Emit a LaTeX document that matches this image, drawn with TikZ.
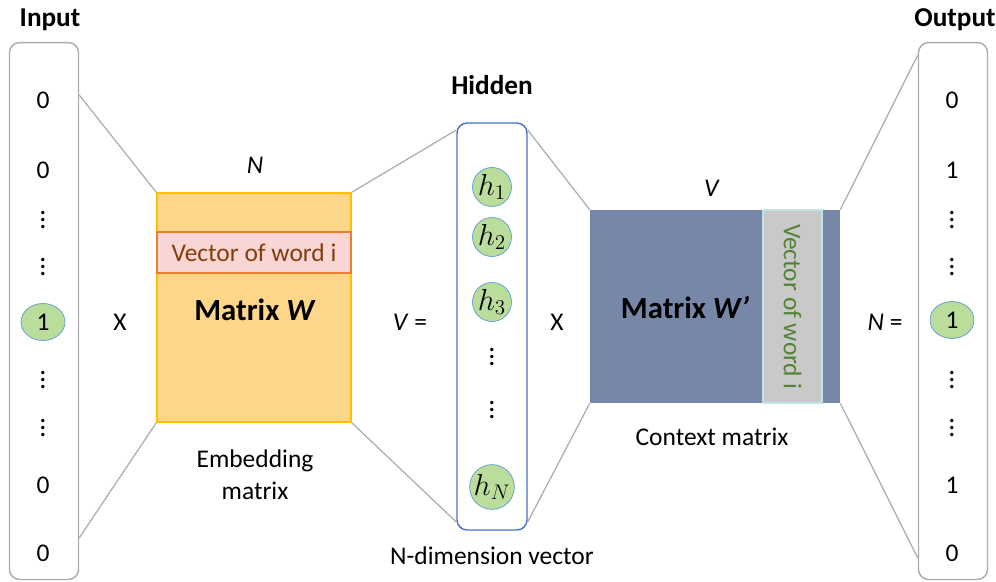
\documentclass[tikz,border=0pt]{standalone}
\usepackage{fontspec}
\setmainfont{Carlito}
\usetikzlibrary{positioning,shapes.geometric}

\definecolor{wfill}{HTML}{FED68A}
\definecolor{wline}{HTML}{FFC000}
\definecolor{bandfill}{HTML}{F9D6D4}
\definecolor{bandline}{HTML}{ED7D31}
\definecolor{bandtext}{HTML}{843C0C}
\definecolor{wpfill}{HTML}{7787A8}
\definecolor{greyband}{HTML}{C9C9C9}
\definecolor{greyline}{HTML}{BDE6EC}
\definecolor{greentext}{HTML}{548235}
\definecolor{cgreen}{HTML}{BADD9C}
\definecolor{bordblue}{HTML}{5B9BD5}
\definecolor{hidblue}{HTML}{4472C4}

\begin{document}
\begin{tikzpicture}[x=0.02cm, y=-0.02cm, font=\fontsize{14.5}{18}\selectfont,
  link/.style={draw=gray!65, line width=0.7pt},
  vecbox/.style={draw=gray!65, line width=0.8pt, rounded corners=0.2cm, minimum width=1.38cm, minimum height=10.74cm, inner sep=0pt},
  onehot/.style={ellipse, draw=bordblue, fill=cgreen, minimum width=0.88cm, minimum height=0.74cm, inner sep=0pt},
  hnode/.style={circle, draw=bordblue, fill=cgreen, minimum size=0.78cm, inner sep=0pt, font=\fontsize{17}{19}\selectfont},
  vdot/.style={inner sep=0pt, font=\fontsize{16}{16}\selectfont\boldmath},
  head/.style={font=\fontsize{15.5}{18}\selectfont\bfseries},
  mlab/.style={font=\fontsize{17.5}{20}\selectfont\bfseries}]
\useasboundingbox (0,0) rectangle (996,581);

% input one-hot vector
\node[head] (inlab) at (50,20) {Input};
\node[vecbox] (inbox) at (44,311) {};
\foreach \y/\v [count=\k] in {100/0, 170/0, 485/0, 553/0}
  \node (in\k) at (43,\y) {\v};
\foreach \y [count=\k] in {215, 262, 375, 423}
  \node[vdot] (ind\k) at (43,\y) {$\vdots$};
\node[onehot] (inone) at (43,322) {1};
\node (x1) at (120,322) {X};

% embedding matrix W
\node[draw=wline, fill=wfill, line width=0.7pt, minimum width=3.88cm, minimum height=4.58cm, inner sep=0pt] (matW) at (254,307.5) {};
\node[draw=bandline, fill=bandfill, line width=0.7pt, minimum width=3.88cm, minimum height=0.82cm, inner sep=0pt, text=bandtext] (bandW) at (254,252.5) {Vector of word i};
\node[mlab] (wlab) at (255,310) {Matrix \textit{W}};
\node (nlab) at (255,165) {\textit{N}};
\node[align=center] (emb) at (255,475) {Embedding\\matrix};
\node (veq) at (410,322) {\textit{V} =};

% hidden layer
\node[head] (hidlab) at (492,85) {Hidden};
\node[draw=hidblue, line width=0.8pt, rounded corners=0.2cm, minimum width=1.4cm, minimum height=8.14cm, inner sep=0pt] (hbox) at (492,326.5) {};
\node[hnode] (h1) at (492,187) {$h_1$};
\node[hnode] (h2) at (492,237) {$h_2$};
\node[hnode] (h3) at (492,302) {$h_3$};
\node[vdot] (hd1) at (492,352) {$\vdots$};
\node[vdot] (hd2) at (492,405) {$\vdots$};
\node[hnode] (hN) at (492,487) {$h_N$};
\node (ndim) at (492,556) {N-dimension vector};
\node (x2) at (557,322) {X};

% context matrix W'
\node[fill=wpfill, minimum width=5cm, minimum height=3.86cm, inner sep=0pt] (matWp) at (715,306.5) {};
\node[draw=greyline, fill=greyband, line width=0.7pt, minimum width=1.18cm, minimum height=3.86cm, inner sep=0pt] (bandWp) at (792.5,306.5) {};
\node[rotate=-90, text=greentext] (bandtxt) at (bandWp) {Vector of word i};
\node[mlab] (wplab) at (685,308) {Matrix \textit{W’}};
\node (vlab) at (712,188) {\textit{V}};
\node (ctx) at (712,437) {Context matrix};
\node (neq) at (885,322) {\textit{N} =};

% output vector
\node[head] (outlab) at (955,20) {Output};
\node[vecbox] (outbox) at (953,311) {};
\foreach \y/\v [count=\k] in {100/0, 170/1, 485/1, 553/0}
  \node (out\k) at (952,\y) {\v};
\foreach \y [count=\k] in {215, 262, 375, 423}
  \node[vdot] (outd\k) at (952,\y) {$\vdots$};
\node[onehot] (outone) at (952,320) {1};

% connectors
\coordinate (ya) at (0,95);
\coordinate (yb) at (0,538);
\coordinate (yc) at (0,130);
\coordinate (yd) at (0,522);
\coordinate (ye) at (0,55);
\coordinate (yf) at (0,558);
\draw[link] (inbox.east |- ya) -- (matW.north west);
\draw[link] (inbox.east |- yb) -- (matW.south west);
\draw[link] (matW.north east) -- (hbox.west |- yc);
\draw[link] (matW.south east) -- (hbox.west |- yd);
\draw[link] (hbox.east |- yc) -- (matWp.north west);
\draw[link] (hbox.east |- yd) -- (matWp.south west);
\draw[link] (matWp.north east) -- (outbox.west |- ye);
\draw[link] (matWp.south east) -- (outbox.west |- yf);
\end{tikzpicture}
\end{document}
